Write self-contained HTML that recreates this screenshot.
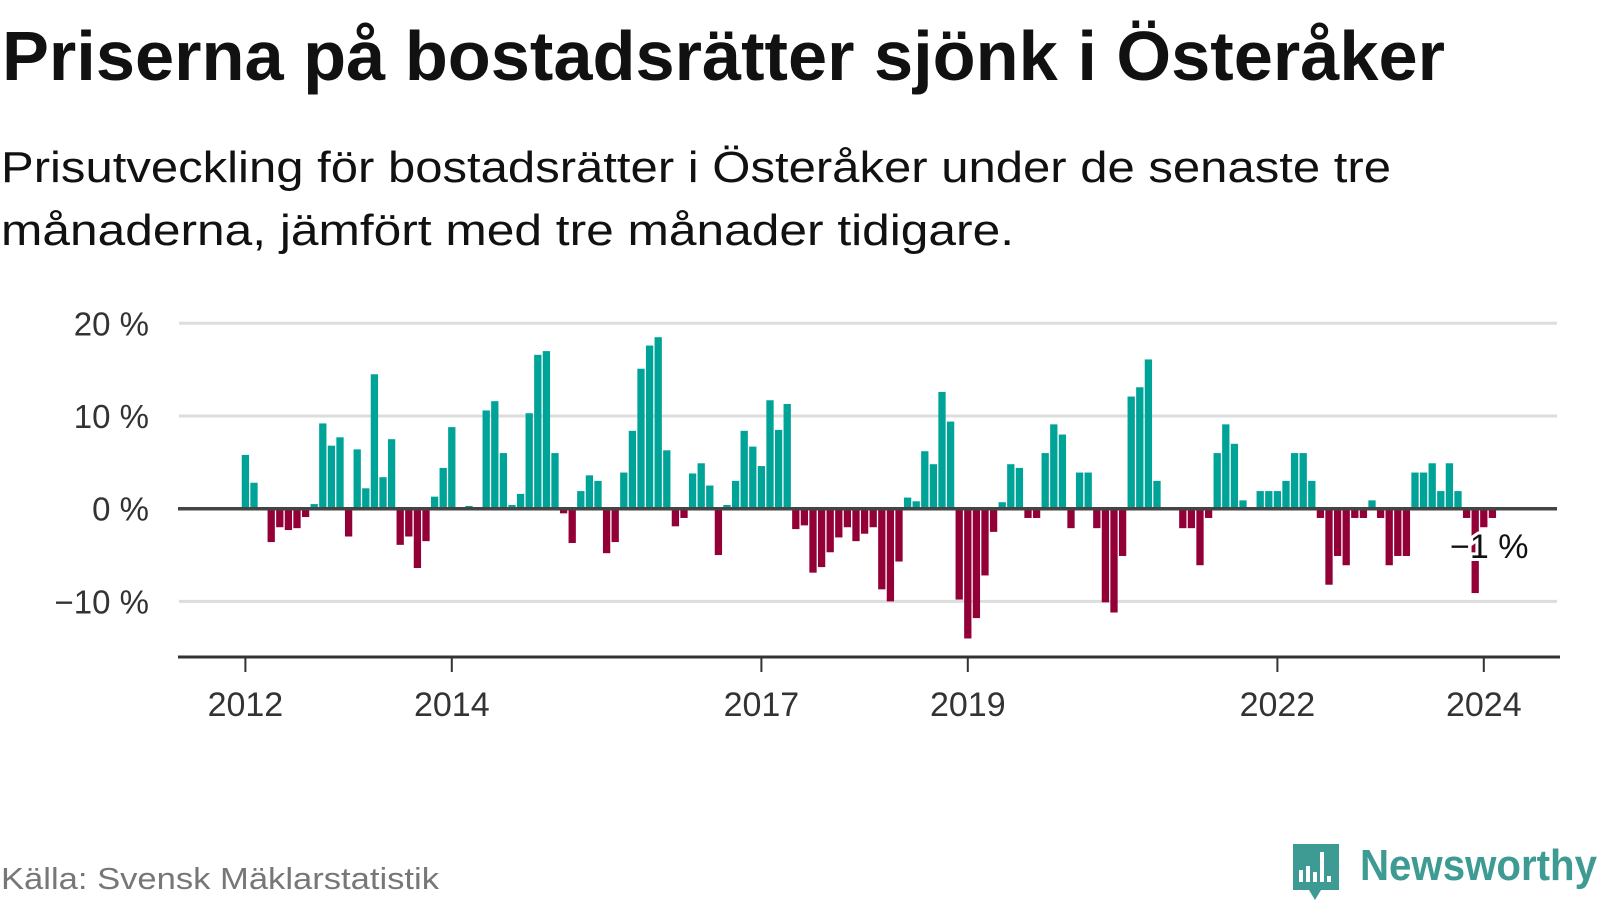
<!DOCTYPE html>
<html><head><meta charset="utf-8"><style>
html,body{margin:0;padding:0;background:#fff;}
svg{display:block;font-family:"Liberation Sans",sans-serif;}
</style></head><body>
<svg id="chart" width="1600" height="900" viewBox="0 0 1600 900" xmlns="http://www.w3.org/2000/svg">
<text x="2" y="80" font-size="70" font-weight="bold" fill="#111" textLength="1443" lengthAdjust="spacingAndGlyphs">Priserna på bostadsrätter sjönk i Österåker</text>
<text x="1" y="182" font-size="44" fill="#111" textLength="1390" lengthAdjust="spacingAndGlyphs">Prisutveckling för bostadsrätter i Österåker under de senaste tre</text>
<text x="1" y="245" font-size="44" fill="#111" textLength="1013" lengthAdjust="spacingAndGlyphs">månaderna, jämfört med tre månader tidigare.</text>
<g id="grid"></g>
<g id="bars"></g>
<g id="axes"></g>
<text x="1" y="889" font-size="31" fill="#777" textLength="438" lengthAdjust="spacingAndGlyphs">Källa: Svensk Mäklarstatistik</text>
<g>
<path d="M1293 844 h46 v46 h-18 l-6 10 l-6 -10 h-16 z" fill="#3d9b94"/>
<rect x="1299" y="870" width="4" height="12" fill="#fff"/><rect x="1306" y="866" width="4" height="16" fill="#fff"/><rect x="1313" y="872" width="4" height="10" fill="#fff"/><rect x="1320" y="852" width="4" height="30" fill="#fff"/><rect x="1327" y="876" width="4" height="6" fill="#fff"/>
<text x="1360" y="880" font-size="44" font-weight="bold" fill="#3d9b94" textLength="237" lengthAdjust="spacingAndGlyphs">Newsworthy</text>
</g>
</svg>
<script>
const startYear = 2012;
const values = [5.8,2.8,null,-3.6,-2.0,-2.3,-2.1,-0.9,0.5,9.2,6.8,7.7,-3.0,6.4,2.2,14.5,3.4,7.5,-3.9,-3.0,-6.4,-3.5,1.3,4.4,8.8,null,0.3,null,10.6,11.6,6.0,0.4,1.6,10.3,16.6,17.0,6.0,-0.5,-3.7,1.9,3.6,3.0,-4.8,-3.6,3.9,8.4,15.1,17.6,18.5,6.3,-1.9,-1.0,3.8,4.9,2.5,-5.0,0.4,3.0,8.4,6.7,4.6,11.7,8.5,11.3,-2.2,-1.8,-6.9,-6.3,-4.7,-3.1,-2.0,-3.5,-2.7,-2.0,-8.7,-10.0,-5.7,1.2,0.8,6.2,4.8,12.6,9.4,-9.8,-14.0,-11.8,-7.2,-2.5,0.7,4.8,4.4,-1.0,-1.0,6.0,9.1,8.0,-2.1,3.9,3.9,-2.1,-10.1,-11.2,-5.1,12.1,13.1,16.1,3.0,null,null,-2.1,-2.1,-6.1,-1.0,6.0,9.1,7.0,0.9,null,1.9,1.9,1.9,3.0,6.0,6.0,3.0,-1.0,-8.2,-5.1,-6.1,-1.0,-1.0,0.9,-1.0,-6.1,-5.1,-5.1,3.9,3.9,4.9,1.9,4.9,1.9,-1.0,-9.1,-2.0,-1.0];
const yTicks = [20,10,0,-10];
const yTickLabels = ["20 %","10 %","0 %","\u221210 %"];
const xTickYears = [2012,2014,2017,2019,2022,2024];
const lastLabel = "\u22121 %";

const NS="http://www.w3.org/2000/svg";
const x0=245.4, slot=8.6, bw=7.3;
function xScale(i){return x0+i*slot;}
function yScale(v){return 508.7-v*9.27;}
function mk(tag,attrs,parent){const e=document.createElementNS(NS,tag);for(const k in attrs)e.setAttribute(k,attrs[k]);parent.appendChild(e);return e;}
const grid=document.getElementById('grid'),bars=document.getElementById('bars'),axes=document.getElementById('axes');
yTicks.forEach((t,k)=>{
  if(t!==0){const l=mk('line',{x1:179,x2:1557,y1:yScale(t),y2:yScale(t),stroke:'#dddddd','stroke-width':3},grid);
  
  }
  const tx=mk('text',{x:149,y:yScale(t)+12,'font-size':33,fill:'#333','text-anchor':'end'},axes);
  
  
  tx.textContent=yTickLabels[k];
});
values.forEach((v,i)=>{
  if(v===null)return;
  const y=v>=0?yScale(v):yScale(0);
  const h=Math.abs(yScale(v)-yScale(0));
  const r=mk('rect',{x:xScale(i)-bw/2,y:y,width:bw,height:h,fill:v>=0?'#00a398':'#930038'},bars);
  
  
});
const zl=mk('line',{x1:178,x2:1557,y1:yScale(0),y2:yScale(0),stroke:'#444','stroke-width':3.5},axes);


const ax=mk('line',{x1:178,x2:1560,y1:657,y2:657,stroke:'#333','stroke-width':3},axes);


xTickYears.forEach(yr=>{
  const x=xScale((yr-startYear)*12);
  const t=mk('line',{x1:x,x2:x,y1:657,y2:672,stroke:'#333','stroke-width':2},axes);
  
  
  const tx=mk('text',{x:x,y:716,'font-size':34,fill:'#333','text-anchor':'middle'},axes);
  
  
  tx.textContent=yr;
});
const ll=mk('text',{x:1450,y:558,'font-size':34,fill:'#111',stroke:'#fff','stroke-width':6,'paint-order':'stroke'},axes);


ll.textContent=lastLabel;
</script>
</body></html>
